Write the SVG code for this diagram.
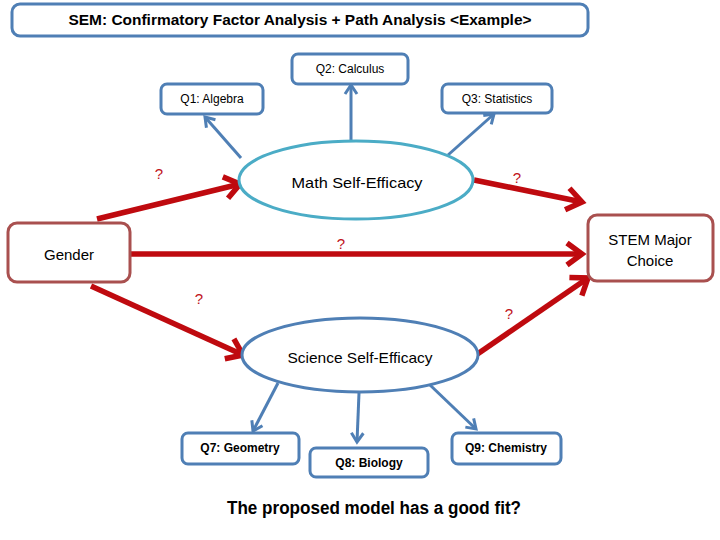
<svg xmlns="http://www.w3.org/2000/svg" width="720" height="540" viewBox="0 0 720 540">
<style>
text{font-family:"Liberation Sans",Arial,sans-serif;fill:#000;text-anchor:middle;dominant-baseline:central}
.bbox{fill:#fff;stroke:#4f7fb5;stroke-width:3}
.rbox{fill:#fff;stroke:#a9504f;stroke-width:3}
.q{font-size:12px}
.qb{font-size:12px;font-weight:bold}
.blue{stroke:#4f7fb5;stroke-width:3;fill:none;marker-end:url(#ab)}
.red{stroke:#bf0a0f;stroke-width:5.5;fill:none;marker-end:url(#ar)}
.qm{font-size:15px;fill:#c0141a}
.lbl{font-size:15px}
</style>
<defs>
<marker id="ab" markerUnits="userSpaceOnUse" markerWidth="16" markerHeight="16" viewBox="0 0 16 16" refX="12" refY="8" orient="auto">
<path d="M3,2 L12,8 L3,14" fill="none" stroke="#4f7fb5" stroke-width="3"/>
</marker>
<marker id="ar" markerUnits="userSpaceOnUse" markerWidth="28" markerHeight="28" viewBox="0 0 28 28" refX="22" refY="14" orient="auto">
<path d="M7,3 L22,14 L7,25" fill="none" stroke="#bf0a0f" stroke-width="5.5"/>
</marker>
</defs>

<g id="title">
<rect x="12" y="4" width="576" height="32" rx="8" class="bbox"/>
<text x="300" y="20" font-size="14" font-weight="bold" textLength="463" lengthAdjust="spacingAndGlyphs">SEM: Confirmatory Factor Analysis  + Path Analysis &lt;Example&gt;</text>
</g>

<g id="connectors">
<line x1="241" y1="158" x2="205" y2="117" class="blue"/>
<line x1="351" y1="140" x2="351" y2="85" class="blue"/>
<line x1="448" y1="155" x2="494" y2="114" class="blue"/>
<line x1="278" y1="383" x2="253" y2="431" class="blue"/>
<line x1="359" y1="393" x2="357" y2="442" class="blue"/>
<line x1="430" y1="385" x2="476" y2="429" class="blue"/>
<line x1="97" y1="219" x2="240" y2="184" class="red"/>
<line x1="474" y1="180" x2="582" y2="202" class="red"/>
<line x1="131" y1="254" x2="582" y2="254" class="red"/>
<line x1="91" y1="286" x2="243" y2="355" class="red"/>
<line x1="476" y1="355" x2="588" y2="278" class="red"/>
<text x="159" y="173" class="qm">?</text>
<text x="517" y="177" class="qm">?</text>
<text x="341" y="243" class="qm">?</text>
<text x="199" y="298" class="qm">?</text>
<text x="509" y="313" class="qm">?</text>
</g>

<g id="q2">
<rect x="292" y="54" width="116" height="30" rx="6" class="bbox"/>
<text x="350" y="69" class="q">Q2: Calculus</text>
</g>
<g id="q1">
<rect x="161" y="84" width="102" height="30" rx="6" class="bbox"/>
<text x="212" y="99" class="q">Q1: Algebra</text>
</g>
<g id="q3">
<rect x="442" y="84" width="110" height="29" rx="6" class="bbox"/>
<text x="497" y="99" class="q">Q3: Statistics</text>
</g>

<g id="math">
<ellipse cx="356" cy="180" rx="117" ry="39" fill="#fff" stroke="#4bacc6" stroke-width="3"/>
<text x="357" y="182" class="lbl" textLength="131" lengthAdjust="spacingAndGlyphs">Math Self-Efficacy</text>
</g>

<g id="gender">
<rect x="8" y="223" width="122" height="59" rx="9" class="rbox"/>
<text x="69" y="254" class="lbl">Gender</text>
</g>

<g id="stem">
<rect x="588" y="215" width="125" height="66" rx="9" class="rbox"/>
<text x="650" y="239" class="lbl">STEM Major</text>
<text x="650" y="260" class="lbl">Choice</text>
</g>

<g id="science">
<ellipse cx="360" cy="355" rx="118" ry="37" fill="#fff" stroke="#4f7fb5" stroke-width="3"/>
<text x="360" y="357" class="lbl" textLength="145" lengthAdjust="spacingAndGlyphs">Science Self-Efficacy</text>
</g>

<g id="q7">
<rect x="182" y="433" width="117" height="31" rx="6" class="bbox"/>
<text x="240" y="448" class="qb">Q7: Geometry</text>
</g>
<g id="q8">
<rect x="310" y="448" width="118" height="29" rx="6" class="bbox"/>
<text x="369" y="463" class="qb">Q8: Biology</text>
</g>
<g id="q9">
<rect x="452" y="433" width="109" height="31" rx="6" class="bbox"/>
<text x="506" y="448" class="qb">Q9: Chemistry</text>
</g>

<g id="caption">
<text x="374" y="508" font-size="18" font-weight="bold" textLength="294" lengthAdjust="spacingAndGlyphs">The proposed model has a good fit?</text>
</g>
</svg>
